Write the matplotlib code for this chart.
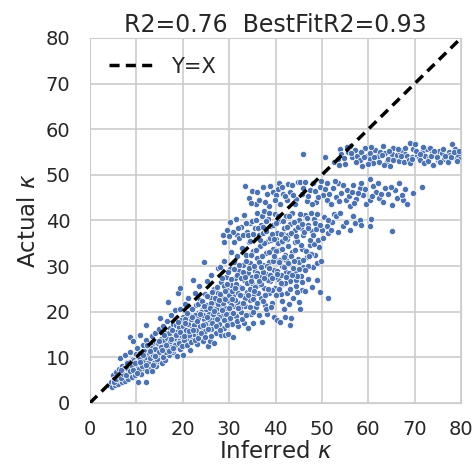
import numpy as np
import matplotlib
matplotlib.use('Agg')
import matplotlib.pyplot as plt
import seaborn as sns

# values (inferred kappa, actual kappa)
core = [
    (4.2, 4.0), (4.6, 4.7), (4.8, 3.6), (5.0, 6.1), (5.1, 4.4), (5.3, 5.2), (5.5, 3.9), (5.6, 6.8),
    (5.8, 4.8), (6.0, 5.6), (6.1, 4.2), (6.3, 7.4), (6.4, 9.8), (6.5, 5.1), (6.7, 6.3), (6.9, 4.6),
    (7.0, 8.2), (7.2, 5.7), (7.4, 6.9), (7.5, 10.5), (7.6, 4.9), (7.8, 7.7), (8.0, 6.0), (8.1, 9.0),
    (8.3, 5.3), (8.4, 7.0), (8.6, 14.5), (8.6, 11.2), (8.8, 8.3), (8.9, 6.4), (9.1, 5.6), (9.2, 9.7),
    (9.3, 13.5), (9.4, 7.4), (9.6, 8.6), (9.8, 6.2), (9.9, 10.8), (10.1, 7.9), (10.2, 12.1), (10.4, 4.6),
    (10.4, 9.2), (10.6, 6.8), (10.8, 14.9), (10.8, 11.0), (11.0, 8.4), (11.1, 6.3), (11.2, 9.9),
    (11.4, 12.8), (11.5, 7.6), (11.7, 10.6), (11.9, 8.8), (12.0, 13.9), (12.2, 4.5), (12.2, 17.1),
    (12.3, 11.4), (12.4, 7.0), (12.6, 9.6), (12.8, 12.3), (12.9, 8.1), (13.1, 10.7), (13.3, 14.7),
    (13.4, 6.9), (13.5, 12.9), (13.7, 9.3), (13.9, 11.6), (14.0, 15.4), (14.2, 8.0), (14.3, 13.4),
    (14.5, 10.4), (14.7, 12.2), (14.8, 16.3), (15.0, 9.2), (15.1, 18.6), (15.2, 11.5), (15.4, 14.0),
    (15.5, 8.7), (15.6, 12.8), (15.8, 16.8), (15.9, 10.4), (16.1, 13.6), (16.2, 9.5), (16.4, 15.4),
    (16.5, 11.8), (16.7, 18.0), (16.8, 22.1), (16.9, 13.0), (17.1, 10.6), (17.2, 16.4), (17.4, 12.4),
    (17.5, 19.2), (17.7, 14.5), (17.9, 11.2), (18.0, 17.3), (18.2, 13.4), (18.4, 20.3), (18.5, 15.6),
    (18.7, 10.2), (18.8, 12.2), (19.0, 24.1), (19.0, 17.9), (19.2, 14.3), (19.4, 25.2), (19.4, 20.6),
    (19.5, 11.8), (19.7, 16.1), (19.9, 13.3), (20.1, 10.4), (20.1, 18.8), (20.3, 15.2), (20.5, 21.6),
    (20.6, 12.7), (20.8, 17.0), (21.0, 14.2), (21.1, 23.0), (21.3, 19.3), (21.5, 11.6), (21.6, 16.0),
    (21.8, 20.7), (22.0, 13.8), (22.2, 27.0), (22.3, 18.2), (22.5, 15.1), (22.6, 24.0), (22.8, 21.4),
    (23.0, 12.9), (23.1, 17.4), (23.3, 19.8), (23.5, 25.6), (23.6, 14.9), (23.8, 22.6), (24.0, 16.6),
    (24.1, 20.3), (24.3, 13.6), (24.5, 18.4), (24.6, 30.9), (24.7, 23.9), (24.9, 15.8), (25.0, 21.5),
    (25.2, 26.8), (25.4, 17.6), (25.5, 12.4), (25.6, 19.8), (25.8, 23.2), (25.9, 13.5), (26.1, 16.2),
    (26.2, 28.1), (26.4, 20.9), (26.6, 18.3), (26.7, 13.2), (26.8, 25.0), (27.0, 22.1), (27.2, 15.4),
    (27.3, 19.6), (27.5, 29.6), (27.6, 24.0), (27.8, 17.2), (28.0, 29.9), (28.0, 21.3), (28.2, 14.9),
    (28.3, 26.5), (28.5, 19.0), (28.7, 23.0), (28.9, 16.4), (29.0, 31.2), (29.1, 14.9), (29.2, 20.7),
    (29.4, 27.6), (29.5, 24.8), (29.7, 18.2), (29.8, 15.2), (29.9, 22.4), (30.1, 29.4), (30.2, 20.0),
    (30.3, 33.0), (30.4, 25.8), (30.6, 17.4), (30.8, 14.5), (30.8, 23.4), (31.0, 30.8), (31.1, 21.2),
    (31.3, 27.4), (31.4, 19.0), (31.6, 36.8), (31.6, 24.6), (31.8, 32.2), (32.0, 16.8), (32.0, 22.0),
    (32.2, 28.9), (32.4, 25.5), (32.5, 19.9), (32.7, 34.0), (32.9, 23.4), (33.0, 30.2), (33.2, 17.5),
    (33.3, 26.9), (33.5, 21.2), (33.7, 32.5), (33.8, 24.3), (34.0, 28.4), (34.1, 16.4), (34.3, 35.2),
    (34.5, 22.6), (34.6, 30.7), (34.8, 19.4), (35.0, 26.3), (35.2, 17.5), (35.2, 33.4), (35.4, 23.9),
    (35.6, 29.0), (35.7, 36.3), (35.9, 21.0), (36.1, 31.8), (36.2, 25.9), (36.4, 19.2), (36.6, 34.4),
    (36.7, 27.8), (36.9, 23.0), (37.0, 17.8), (37.2, 30.2), (37.5, 25.2), (37.7, 21.4), (37.9, 32.9),
    (38.0, 28.3), (38.2, 19.6), (38.4, 35.6), (38.5, 24.0), (38.7, 30.9), (38.9, 26.8), (39.2, 22.0),
    (39.4, 33.7), (39.6, 18.9), (39.7, 29.1), (39.9, 25.3), (40.1, 36.0), (40.2, 31.4), (40.4, 18.2),
    (40.6, 27.2), (40.8, 33.6), (41.0, 17.8), (41.1, 23.8), (41.3, 30.0), (41.5, 35.2), (41.7, 26.0),
    (41.9, 20.5), (42.0, 32.5), (42.0, 18.9), (42.2, 28.6), (42.4, 24.1), (42.6, 34.5), (42.8, 21.7),
    (43.1, 17.1), (43.0, 30.4), (43.2, 26.8), (43.4, 18.7), (43.5, 33.1), (43.7, 23.0), (44.0, 28.9),
    (44.2, 28.4), (44.2, 35.3), (44.5, 25.7), (44.5, 27.0), (44.8, 31.6), (45.0, 22.2), (45.3, 20.5),
    (45.4, 27.9), (45.6, 24.8), (45.7, 33.8), (46.0, 29.8), (46.3, 24.6), (46.7, 31.9), (47.0, 27.1),
    (47.4, 34.6), (47.8, 25.5), (48.1, 29.8), (48.5, 32.4), (48.9, 30.6), (48.9, 27.0), (49.3, 34.1),
    (49.6, 24.4), (49.8, 31.2), (51.4, 23.1),
]
# the packed middle of the main band
core_dense = [
    (5.2, 4.6), (5.7, 5.3), (6.2, 6.0), (6.6, 5.5), (7.1, 6.4), (7.3, 7.6), (7.7, 6.1), (8.2, 7.4),
    (8.5, 8.9), (8.7, 6.9), (9.0, 8.0), (9.5, 9.4), (9.7, 7.1), (10.0, 8.9), (10.3, 10.2), (10.5, 7.4),
    (10.9, 9.6), (11.3, 8.2), (11.6, 11.3), (11.8, 9.2), (12.1, 10.0), (12.5, 8.7), (12.7, 11.0),
    (13.0, 9.8), (13.2, 12.0), (13.6, 10.5), (13.8, 8.8), (14.1, 11.9), (14.4, 9.6), (14.6, 13.1),
    (14.9, 11.1), (15.3, 12.3), (15.7, 10.0), (15.9, 13.8), (16.3, 11.2), (16.6, 14.2), (16.8, 12.1),
    (17.0, 15.3), (17.3, 13.6), (17.6, 11.6), (17.8, 16.0), (18.1, 14.2), (18.3, 12.6), (18.6, 17.1),
    (18.9, 15.0), (19.1, 13.1), (19.3, 16.6), (19.6, 18.2), (19.8, 14.6), (20.0, 16.9), (20.2, 13.8),
    (20.4, 18.4), (20.7, 15.9), (20.9, 19.7), (21.2, 17.2), (21.4, 14.8), (21.7, 18.5), (21.9, 16.4),
    (22.1, 20.5), (22.4, 17.0), (22.7, 19.3), (22.9, 15.9), (23.2, 21.6), (23.4, 18.3), (23.7, 16.9),
    (23.9, 20.0), (24.2, 22.4), (24.4, 19.2), (24.8, 17.3), (25.1, 20.6), (25.3, 23.5), (25.7, 18.5),
    (26.0, 21.9), (26.3, 24.3), (26.5, 19.5), (26.9, 22.9), (27.1, 20.6), (27.4, 25.4), (27.7, 21.7),
    (27.9, 18.9), (28.1, 23.9), (28.4, 27.4), (28.6, 21.9), (28.8, 25.6), (29.1, 22.8), (29.3, 19.6),
    (29.6, 26.1), (29.8, 28.6), (30.0, 23.7), (30.3, 21.4), (30.5, 27.1), (30.7, 24.6), (31.0, 29.3),
    (31.2, 22.6), (31.5, 26.0), (31.7, 28.0), (31.9, 24.0), (32.1, 30.2), (32.3, 21.0), (32.6, 27.3),
    (32.8, 25.1), (33.1, 28.6), (33.4, 23.1), (33.6, 31.1), (33.9, 26.3), (34.2, 29.6), (34.4, 24.9),
    (34.7, 32.4), (34.9, 27.6), (35.1, 22.8), (35.3, 30.1), (35.6, 25.5), (35.8, 33.5), (36.0, 28.4),
    (36.3, 24.1), (36.5, 30.9), (36.8, 26.0), (37.1, 32.3), (37.3, 28.8), (37.6, 35.0), (37.8, 23.6),
    (38.1, 30.1), (38.3, 26.9), (38.6, 33.0), (38.8, 28.1), (39.0, 35.8), (39.3, 24.8), (39.5, 31.1),
    (39.8, 27.5), (40.0, 33.3), (40.3, 29.0), (40.5, 35.1), (40.7, 25.0), (40.9, 31.3), (41.2, 28.1),
    (41.4, 33.8), (41.6, 37.0), (41.9, 29.8), (42.1, 26.3), (42.3, 31.4), (42.5, 35.9), (42.9, 28.4),
    (43.3, 32.2), (43.8, 29.6), (44.3, 33.6), (44.6, 27.8), (45.1, 30.9), (45.5, 34.7), (45.9, 31.3),
    (46.5, 33.3), (47.1, 30.0), (47.6, 32.7), (48.3, 34.9),
]
core_fill = [
    (6.8, 7.3), (7.9, 8.7), (9.2, 7.2), (9.7, 8.7), (10.2, 6.5), (10.7, 9.0), (11.4, 10.6), (12.0, 8.3),
    (12.4, 12.6), (13.0, 11.4), (13.5, 8.3), (14.0, 10.2), (14.8, 13.6), (15.5, 11.6), (16.0, 14.9),
    (16.4, 12.7), (17.0, 11.3), (17.5, 14.0), (18.0, 12.0), (18.5, 14.8), (18.9, 17.7), (19.4, 15.5),
    (19.8, 12.4), (20.3, 14.6), (20.6, 17.5), (21.0, 12.8), (21.3, 15.7), (21.7, 13.4), (22.0, 18.8),
    (22.2, 15.9), (22.6, 13.9), (23.0, 17.9), (23.3, 14.3), (23.7, 19.6), (24.0, 15.3), (24.3, 17.1),
    (24.6, 21.3), (24.9, 14.4), (25.2, 18.9), (25.5, 16.3), (25.8, 20.8), (26.1, 14.7), (26.4, 17.6),
    (26.8, 20.1), (27.1, 16.8), (27.4, 18.3), (27.8, 22.6), (28.1, 16.0), (28.4, 20.3), (28.8, 18.1),
    (29.2, 24.6), (29.5, 17.0), (29.9, 20.8), (30.2, 18.6), (30.6, 22.7), (30.9, 19.7), (31.3, 25.1),
    (31.6, 17.9), (32.0, 20.9), (32.3, 23.7), (32.7, 18.5), (33.0, 21.9), (33.4, 27.6), (33.7, 19.3),
    (34.0, 23.6), (34.4, 21.0), (34.7, 26.8), (35.1, 19.9), (35.4, 24.5), (35.8, 27.9), (36.1, 21.8),
    (36.5, 26.7), (36.9, 29.8), (37.2, 22.4), (37.6, 27.3), (37.9, 20.5), (38.3, 24.9), (38.6, 29.5),
    (39.0, 21.1), (39.3, 27.4), (39.7, 32.3), (40.0, 23.6), (40.4, 28.3), (40.7, 30.9), (41.1, 26.3),
    (41.5, 22.3), (41.8, 32.0), (42.3, 27.5), (42.7, 30.6), (43.1, 24.9), (43.6, 28.1), (44.0, 31.1),
    (44.6, 24.3), (45.0, 29.4), (45.8, 26.6), (46.4, 29.1), (47.2, 32.2),
]
band_38 = [
    (28.6, 36.9), (29.5, 38.0), (30.2, 39.6), (30.8, 37.4), (31.5, 40.3), (32.1, 36.2), (32.6, 38.6),
    (33.3, 41.2), (33.8, 37.5), (34.4, 35.5), (34.5, 39.4), (34.9, 39.8), (35.5, 38.4), (36.0, 41.6),
    (36.4, 36.7), (36.9, 39.1), (37.0, 40.9), (37.4, 37.3), (37.5, 42.0), (37.9, 37.7), (38.4, 40.4),
    (38.9, 36.2), (39.1, 38.7), (39.4, 38.9), (39.9, 41.3), (40.3, 37.3), (40.8, 39.8), (41.3, 35.6),
    (41.8, 38.4), (42.2, 40.9), (42.7, 36.8), (43.2, 39.3), (43.6, 41.7), (44.1, 37.8), (44.6, 35.4),
    (45.0, 40.2), (45.5, 38.3), (46.0, 36.8), (46.4, 41.2), (46.9, 39.0), (47.4, 35.7), (47.8, 37.6),
    (48.3, 40.3), (48.8, 38.2), (49.2, 35.7), (50.0, 37.9), (50.5, 40.7), (51.0, 38.8), (51.4, 37.2),
    (52.2, 39.6), (52.7, 41.5), (53.1, 41.0), (53.4, 37.5), (53.9, 41.7), (54.5, 38.8), (55.2, 39.6),
    (56.0, 37.9), (56.7, 41.0), (57.1, 39.5), (58.2, 40.1), (58.5, 39.0), (60.3, 38.7), (60.6, 40.4),
    (65.0, 37.6), (29.0, 35.2), (30.0, 36.6), (31.0, 35.3), (31.9, 38.4), (32.9, 36.7), (33.6, 39.5),
    (34.1, 36.9), (35.2, 37.0), (35.7, 40.1), (36.2, 38.3), (36.7, 35.7), (37.2, 38.5), (38.0, 39.8),
    (38.7, 41.6), (39.3, 37.0), (39.7, 36.0), (40.0, 39.4), (40.6, 41.0), (41.1, 37.1), (41.6, 39.8),
    (42.0, 36.2), (42.5, 38.6), (43.0, 41.0), (43.4, 37.3), (43.9, 39.7), (44.4, 36.5), (44.8, 38.6),
    (45.3, 41.5), (45.8, 39.3), (46.2, 37.5), (46.7, 40.6), (47.1, 38.3), (47.6, 41.7), (48.1, 36.7),
    (48.6, 39.5), (49.0, 41.4), (49.6, 38.9), (50.2, 36.2), (51.3, 40.0), (52.0, 37.8),
]
band_45 = [
    (33.5, 47.5), (34.2, 45.0), (35.0, 46.5), (35.8, 43.6), (36.5, 44.5), (37.2, 47.4), (38.1, 45.8),
    (38.6, 43.2), (39.5, 46.3), (40.2, 45.6), (40.8, 48.3), (41.0, 43.5), (41.6, 45.9), (42.4, 44.4),
    (42.7, 48.0), (43.1, 46.3), (43.5, 47.8), (44.5, 44.8), (44.9, 48.5), (45.3, 48.5), (46.0, 47.0),
    (46.7, 44.3), (47.4, 46.7), (48.1, 48.1), (48.8, 44.1), (49.5, 47.4), (50.3, 45.5), (51.0, 48.1),
    (51.0, 44.4), (52.4, 47.0), (53.1, 45.2), (53.5, 48.1), (54.2, 46.1), (55.3, 46.7), (55.2, 44.4),
    (56.0, 43.1), (56.7, 47.8), (57.4, 44.8), (58.2, 47.0), (58.9, 45.6), (59.6, 43.7), (60.3, 49.1),
    (60.3, 44.4), (61.0, 47.6), (61.7, 46.3), (62.4, 44.9), (63.2, 44.1), (63.6, 47.0), (64.3, 45.9),
    (65.1, 43.3), (65.8, 46.6), (66.5, 48.1), (67.5, 44.5), (67.9, 46.9), (68.3, 43.5), (69.7, 46.0),
    (71.5, 47.3), (34.8, 43.9), (36.0, 46.2), (37.7, 44.1), (38.9, 47.6), (39.8, 44.5), (40.5, 46.9),
    (41.3, 47.3), (42.0, 45.4), (43.8, 45.5), (44.2, 43.5), (45.6, 45.9), (46.3, 48.4), (47.0, 45.3),
    (47.8, 43.6), (48.5, 46.5), (49.1, 45.2), (49.8, 48.6), (50.6, 46.8), (51.6, 45.9), (52.0, 43.6),
    (52.9, 48.7), (53.7, 44.2), (54.6, 47.8), (55.8, 45.4), (56.4, 46.3), (57.0, 43.9), (57.8, 46.1),
    (58.5, 48.3), (59.2, 46.8), (60.8, 45.4), (62.0, 48.2), (62.8, 45.7), (64.8, 47.3), (66.2, 44.9),
    (67.2, 45.6),
]
band_54 = [
    (46.0, 54.6), (50.6, 54.0), (52.6, 52.8), (53.4, 53.4), (53.9, 55.6), (54.2, 54.6), (55.0, 52.4),
    (55.6, 55.0), (56.0, 56.4), (56.5, 53.9), (57.1, 55.4), (57.6, 54.2), (58.1, 53.2), (58.7, 52.0),
    (59.3, 55.9), (59.8, 54.1), (60.3, 54.8), (60.3, 53.5), (60.9, 52.6), (61.4, 55.4), (61.8, 53.9),
    (62.1, 54.2), (62.6, 55.1), (63.2, 56.3), (63.6, 54.8), (64.0, 53.0), (64.3, 53.5), (64.7, 51.9),
    (65.0, 54.6), (65.4, 55.9), (65.8, 53.5), (66.1, 54.4), (66.5, 53.0), (66.9, 55.0), (67.2, 55.4),
    (67.6, 52.8), (68.0, 54.6), (68.3, 54.1), (68.7, 53.3), (69.0, 56.9), (69.3, 54.0), (69.7, 55.6),
    (70.1, 56.7), (70.5, 54.4), (70.9, 53.6), (71.2, 53.3), (71.6, 55.0), (71.9, 52.6), (72.3, 54.2),
    (72.6, 55.6), (73.0, 53.6), (73.3, 55.9), (73.7, 54.8), (74.0, 52.2), (74.4, 54.1), (74.9, 53.2),
    (75.3, 55.3), (75.8, 54.8), (76.2, 53.4), (76.9, 53.7), (77.3, 55.1), (77.6, 54.4), (78.0, 56.7),
    (78.4, 53.9), (78.7, 55.6), (79.1, 54.0), (79.4, 54.4), (79.7, 53.5), (53.7, 52.2), (54.8, 53.6),
    (55.3, 56.0), (56.2, 54.8), (57.3, 52.9), (58.4, 55.0), (59.0, 53.8), (60.0, 52.4), (60.6, 56.2),
    (61.2, 54.0), (62.3, 52.9), (62.9, 54.3), (63.4, 52.2), (64.5, 55.3), (65.3, 53.2), (66.3, 55.7),
    (67.0, 54.1), (67.9, 55.8), (68.9, 52.6), (69.5, 53.4), (70.3, 55.2), (71.1, 54.6), (71.8, 56.1),
    (72.8, 53.0), (73.5, 54.2), (74.2, 55.3), (74.7, 53.9), (75.5, 52.9), (76.0, 55.7), (76.6, 54.2),
    (77.1, 52.8), (77.9, 53.8), (78.5, 55.1), (79.0, 53.1), (79.6, 55.2),
]

r2 = 0.76
best_fit_r2 = 0.93
ticks = [0, 10, 20, 30, 40, 50, 60, 70, 80]

sns.set_style('whitegrid')
plt.rcParams['font.family'] = ['DejaVu Sans']

pts = np.array(core + core_dense + core_fill + band_38 + band_45 + band_54)

fig = plt.figure(figsize=(4.73, 4.68), dpi=100)
ax = fig.add_axes([0.19, 0.139, 0.785, 0.78])

ax.scatter(pts[:, 0], pts[:, 1], s=20, color='#4C72B0', edgecolor='white', linewidth=0.5, zorder=2)
ax.plot([0, 80], [0, 80], color='k', ls=(0, (2.9, 1.8)), lw=2.5, label='Y=X', zorder=3)

ax.set_xlim(0, 80)
ax.set_ylim(0, 80)
ax.set_xticks(ticks)
ax.set_yticks(ticks)
ax.tick_params(labelsize=14, colors='#262626', length=0)
ax.tick_params(axis='x', pad=12)
ax.tick_params(axis='y', pad=14)
for s in ax.spines.values():
    s.set_color('#cccccc')
ax.grid(color='#cccccc', lw=1.2)
ax.set_xlabel(r'Inferred $\kappa$', fontsize=16.5, color='#262626', labelpad=1)
ax.set_ylabel(r'Actual $\kappa$', fontsize=16.5, color='#262626', labelpad=4)
ax.set_title(f'R2={r2:.2f}  BestFitR2={best_fit_r2:.2f}', fontsize=17, color='#262626', pad=4)
ax.legend(loc='upper left', frameon=False, fontsize=15, handlelength=2.2)

fig.savefig('out.png', dpi=100)
